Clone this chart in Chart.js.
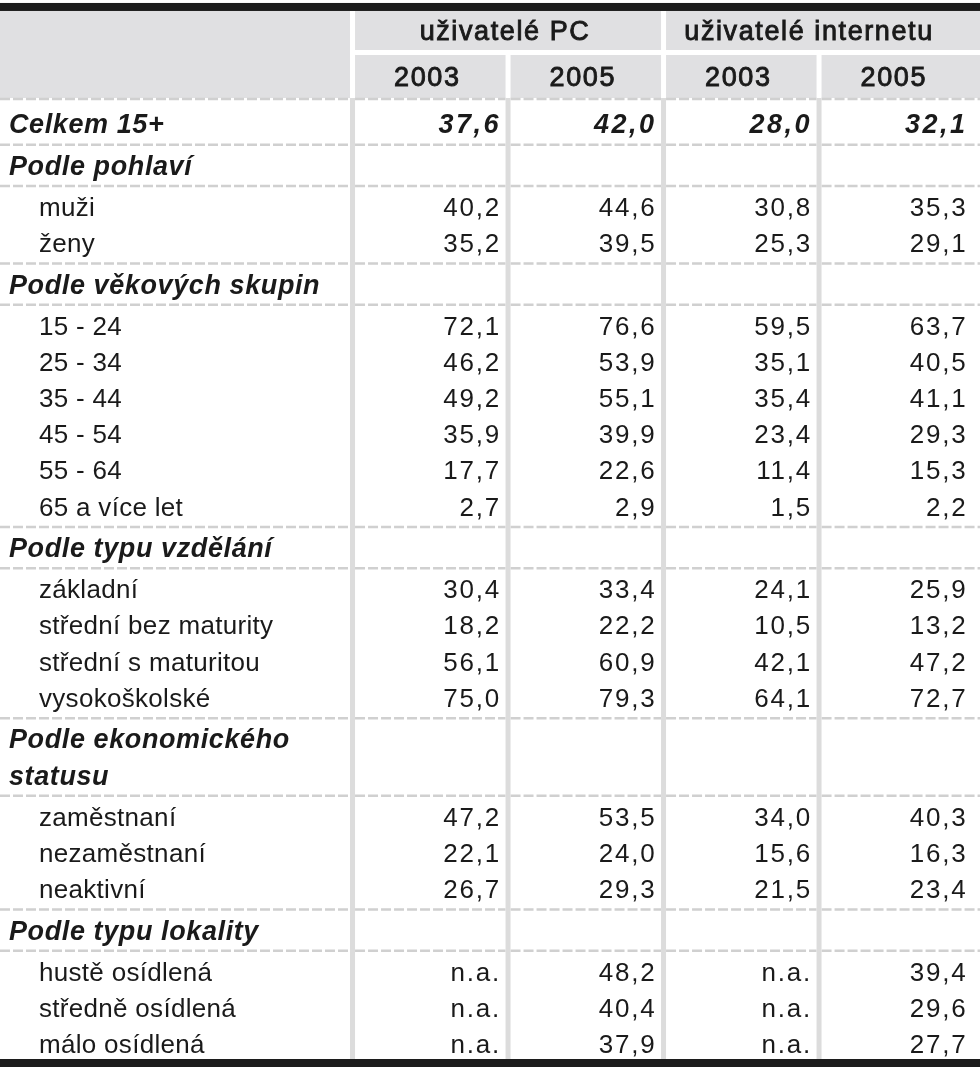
<!DOCTYPE html>
<html lang="cs">
<head>
<meta charset="UTF-8">
<title>Uživatelé PC a internetu</title>
<script src="https://cdn.jsdelivr.net/npm/chart.js"></script>
<style>
    * { margin: 0; padding: 0; box-sizing: border-box; }
    body { background: #ffffff; }
    .wrap { width: 980px; height: 1067px; position: relative; }
</style>
</head>
<body>
<div class="wrap"><canvas id="tbl"></canvas></div>
<script>
// ---- data ----
const groupLabels = ['uživatelé PC', 'uživatelé internetu'];
const yearLabels = ['2003', '2005', '2003', '2005'];

const rowLabels = [
    'Celkem 15+',
    'Podle pohlaví', 'muži', 'ženy',
    'Podle věkových skupin', '15 - 24', '25 - 34', '35 - 44', '45 - 54', '55 - 64', '65 a více let',
    'Podle typu vzdělání', 'základní', 'střední bez maturity', 'střední s maturitou', 'vysokoškolské',
    'Podle ekonomického', 'statusu', 'zaměstnaní', 'nezaměstnaní', 'neaktivní',
    'Podle typu lokality', 'hustě osídlená', 'středně osídlená', 'málo osídlená'
];
// total = bold italic row with values, head = section heading, item = normal row
const rowKind = [
    'total',
    'head', 'item', 'item',
    'head', 'item', 'item', 'item', 'item', 'item', 'item',
    'head', 'item', 'item', 'item', 'item',
    'head', 'head', 'item', 'item', 'item',
    'head', 'item', 'item', 'item'
];
// rows followed by a dashed separator
const sepAfter = [0, 1, 3, 4, 10, 11, 15, 17, 20, 21];

const pc2003 = [37.6, null, 40.2, 35.2, null, 72.1, 46.2, 49.2, 35.9, 17.7, 2.7, null, 30.4, 18.2, 56.1, 75.0, null, null, 47.2, 22.1, 26.7, null, 'n.a.', 'n.a.', 'n.a.'];
const pc2005 = [42.0, null, 44.6, 39.5, null, 76.6, 53.9, 55.1, 39.9, 22.6, 2.9, null, 33.4, 22.2, 60.9, 79.3, null, null, 53.5, 24.0, 29.3, null, 48.2, 40.4, 37.9];
const inet2003 = [28.0, null, 30.8, 25.3, null, 59.5, 35.1, 35.4, 23.4, 11.4, 1.5, null, 24.1, 10.5, 42.1, 64.1, null, null, 34.0, 15.6, 21.5, null, 'n.a.', 'n.a.', 'n.a.'];
const inet2005 = [32.1, null, 35.3, 29.1, null, 63.7, 40.5, 41.1, 29.3, 15.3, 2.2, null, 25.9, 13.2, 47.2, 72.7, null, null, 40.3, 16.3, 23.4, null, 39.4, 29.6, 27.7];
const columns = [pc2003, pc2005, inet2003, inet2005];

// ---- layout (row / column units) ----
const SEP = 0.141;          // extra space around a dashed separator
const rowPos = [];
rowLabels.forEach((_, i) => {
    if (i === 0) rowPos.push(0);
    else rowPos.push(rowPos[i - 1] + 1 + (sepAfter.includes(i - 1) ? SEP : 0));
});
const Y = {
    min: -3.425, max: 26.05,
    topBar: [-3.343, -3.122],
    head1: [-3.122, -2.044], head1Mid: -2.569,
    head2: [-1.906, -0.718], head2Mid: -1.298,
    headLine: -0.69,
    bottomBar: [25.829, 26.05]
};
const X = { min: -2.767, max: 3.535, labelEdge: -0.5 };
const TXT_DY = 2;   // canvas 'middle' sits a little high

const INK = '#1a1a1a';
const HEAD_GREY = '#e0e0e2';
const LINE_GREY = '#dcdcdc';
const DASH_GREY = '#d0d0d0';

function fmt(v) {
    return typeof v === 'number' ? v.toFixed(1).replace('.', ',') : v;
}

// one scatter dataset per value column, points sit on the cell centres
const datasets = columns.map((col, c) => ({
    label: yearLabels[c],
    data: col.map((v, i) => v === null ? null : { x: c, y: rowPos[i], text: fmt(v), row: i })
              .filter(p => p !== null),
    pointRadius: 0,
    showLine: false
}));

const tablePlugin = {
    id: 'tableDraw',
    beforeDraw(chart) {
        const ctx = chart.ctx;
        const xs = chart.scales.x, ys = chart.scales.y;
        const W = chart.width;
        const py = v => ys.getPixelForValue(v);
        const px = v => xs.getPixelForValue(v);
        const edges = [X.labelEdge, 0.5, 1.5, 2.5];   // column boundaries
        const half = 2.5;

        ctx.save();
        ctx.fillStyle = '#fff';
        ctx.fillRect(0, 0, W, chart.height);

        // header background
        ctx.fillStyle = HEAD_GREY;
        ctx.fillRect(0, py(Y.head1[0]), W, py(Y.head2[1]) - py(Y.head1[0]));
        // white gaps in header
        ctx.fillStyle = '#fff';
        ctx.fillRect(px(X.labelEdge) + half, py(Y.head1[1]), W, py(Y.head2[0]) - py(Y.head1[1]));
        ctx.fillRect(px(X.labelEdge) - half, py(Y.head1[0]), half * 2, py(Y.head2[1]) - py(Y.head1[0]));
        ctx.fillRect(px(1.5) - half, py(Y.head1[0]), half * 2, py(Y.head2[1]) - py(Y.head1[0]));
        [0.5, 2.5].forEach(e => {
            ctx.fillRect(px(e) - half, py(Y.head2[0]), half * 2, py(Y.head2[1]) - py(Y.head2[0]));
        });

        // dashed separators, drawn per cell
        const cells = [[0, px(X.labelEdge) - half]];
        for (let k = 0; k < edges.length; k++) {
            const l = px(edges[k]) + half;
            const r = k + 1 < edges.length ? px(edges[k + 1]) - half : W;
            cells.push([l, r]);
        }
        const sepYs = [Y.headLine].concat(sepAfter.map(i => rowPos[i] + 0.5 + SEP / 2));
        ctx.strokeStyle = DASH_GREY;
        ctx.lineWidth = 2.5;
        ctx.setLineDash([10, 3]);
        sepYs.forEach(v => {
            const y = py(v);
            cells.forEach(([l, r]) => {
                ctx.beginPath();
                ctx.moveTo(l, y);
                ctx.lineTo(r, y);
                ctx.stroke();
            });
        });
        ctx.setLineDash([]);

        // vertical grey rules in the body
        ctx.fillStyle = LINE_GREY;
        edges.forEach(e => {
            ctx.fillRect(px(e) - half, py(Y.headLine) - 1, half * 2, py(Y.bottomBar[0]) - py(Y.headLine) + 1);
        });

        // black bars
        ctx.fillStyle = '#1c1c1c';
        ctx.fillRect(0, py(Y.topBar[0]), W, py(Y.topBar[1]) - py(Y.topBar[0]));
        ctx.fillRect(0, py(Y.bottomBar[0]), W, chart.height - py(Y.bottomBar[0]));

        // header texts
        ctx.fillStyle = INK;
        ctx.strokeStyle = INK;
        ctx.lineWidth = 0.9;
        ctx.textBaseline = 'middle';
        ctx.textAlign = 'center';
        ctx.font = '27px "Liberation Sans", Arial, sans-serif';
        ctx.letterSpacing = '1.6px';
        const groupShift = [-3, -10];
        groupLabels.forEach((g, k) => {
            const x = px(k * 2 + 0.5) + groupShift[k], y = py(Y.head1Mid) + TXT_DY;
            ctx.fillText(g, x, y);
            ctx.strokeText(g, x, y);
        });
        yearLabels.forEach((t, c) => {
            const x = px(c) - 3, y = py(Y.head2Mid) + TXT_DY;
            ctx.fillText(t, x, y);
            ctx.strokeText(t, x, y);
        });

        // row labels
        ctx.textAlign = 'left';
        rowLabels.forEach((t, i) => {
            const y = py(rowPos[i]) + TXT_DY;
            if (rowKind[i] === 'item') {
                ctx.font = '26px "Liberation Sans", Arial, sans-serif';
                ctx.letterSpacing = '0.3px';
                ctx.fillText(t, 39, y);
            } else {
                ctx.font = 'italic bold 27px "Liberation Sans", Arial, sans-serif';
                ctx.letterSpacing = '0.6px';
                ctx.fillText(t, 9, y);
            }
        });
        ctx.restore();
    },
    afterDatasetsDraw(chart) {
        const ctx = chart.ctx;
        const xs = chart.scales.x;
        ctx.save();
        ctx.fillStyle = INK;
        ctx.textBaseline = 'middle';
        ctx.textAlign = 'right';
        chart.data.datasets.forEach((ds, c) => {
            const meta = chart.getDatasetMeta(c);
            const right = xs.getPixelForValue(c + 0.5) - 7;
            meta.data.forEach((pt, j) => {
                const d = ds.data[j];
                if (rowKind[d.row] === 'total') {
                    ctx.font = 'italic bold 27px "Liberation Sans", Arial, sans-serif';
                    ctx.letterSpacing = '2.5px';
                } else {
                    ctx.font = '26px "Liberation Sans", Arial, sans-serif';
                    ctx.letterSpacing = '1.8px';
                }
                ctx.fillText(d.text, right, pt.y + TXT_DY);
            });
        });
        ctx.restore();
    }
};

new Chart(document.getElementById('tbl'), {
    type: 'scatter',
    data: { datasets: datasets },
    options: {
        responsive: true,
        maintainAspectRatio: false,
        animation: false,
        events: [],
        layout: { padding: 0 },
        plugins: { legend: { display: false }, tooltip: { enabled: false } },
        scales: {
            x: { type: 'linear', display: false, min: X.min, max: X.max },
            y: { type: 'linear', display: false, reverse: true, min: Y.min, max: Y.max }
        }
    },
    plugins: [tablePlugin]
});
</script>
</body>
</html>
